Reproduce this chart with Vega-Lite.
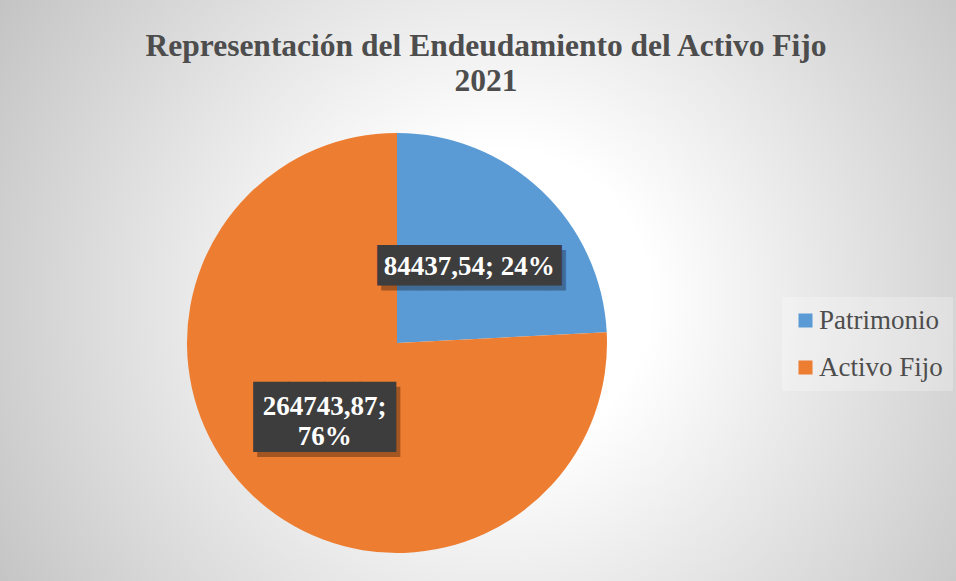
{
  "$schema": "https://vega.github.io/schema/vega-lite/v6.json",
  "autosize": "none",
  "padding": {"left": -162, "top": 0, "right": 0, "bottom": -105},
  "width": 1118,
  "height": 686,
  "background": "#c4c4c4",
  "config": {"view": {"stroke": null}},
  "title": {
    "text": ["Representación del Endeudamiento del Activo Fijo", "2021"],
    "font": "Liberation Serif",
    "fontSize": 31.5,
    "fontWeight": "bold",
    "color": "#4d4d4d",
    "lineHeight": 35,
    "anchor": "middle",
    "frame": "group",
    "orient": "top",
    "offset": 0,
    "dx": 89,
    "dy": 97
  },
  "data": {
    "values": [
      {"cat": "Patrimonio", "value": 84437.54, "label": "84437,54; 24%"},
      {"cat": "Activo Fijo", "value": 264743.87, "label": ["264743,87;", "76%"]}
    ]
  },
  "layer": [
    {
      "mark": {
        "type": "rect",
        "stroke": null,
        "fill": {
          "gradient": "radial",
          "x1": 0.592, "y1": 0.4615, "r1": 0.134,
          "x2": 0.592, "y2": 0.4615, "r2": 0.519,
          "stops": [
            {"offset": 0, "color": "#ffffff"},
            {"offset": 1, "color": "#c4c4c4"}
          ]
        }
      }
    },
    {
      "mark": {"type": "arc", "outerRadius": 210},
      "encoding": {
        "theta": {"field": "value", "type": "quantitative", "stack": true},
        "order": {"field": "value", "type": "quantitative", "sort": "ascending"},
        "color": {
          "field": "cat",
          "type": "nominal",
          "scale": {"domain": ["Patrimonio", "Activo Fijo"], "range": ["#5b9bd5", "#ed7d31"]},
          "legend": {
            "title": null,
            "orient": "none",
            "legendX": 944,
            "legendY": 297,
            "symbolType": "square",
            "symbolSize": 196,
            "symbolStrokeWidth": 0,
            "labelFont": "Liberation Serif",
            "labelFontSize": 27,
            "labelColor": "#4d4d4d",
            "labelOffset": 0,
            "rowPadding": 19,
            "padding": 10,
            "fillColor": "rgba(255,255,255,0.25)"
          }
        }
      }
    },
    {
      "mark": {"type": "text", "radius": 105, "font": "DejaVu Sans Mono", "color": "#000000", "opacity": 0.3, "dx": 4, "dy": 5, "align": "center", "baseline": "middle"},
      "encoding": {
        "theta": {"field": "value", "type": "quantitative", "stack": true},
        "order": {"field": "value", "type": "quantitative", "sort": "ascending"},
        "text": {"condition": {"test": "datum.cat === 'Patrimonio'", "value": "█████████"}, "value": "████"},
        "size": {"condition": {"test": "datum.cat === 'Patrimonio'", "value": 34}, "value": 59}
      }
    },
    {
      "mark": {"type": "text", "radius": 105, "font": "DejaVu Sans Mono", "color": "#3d3d3d", "align": "center", "baseline": "middle"},
      "encoding": {
        "theta": {"field": "value", "type": "quantitative", "stack": true},
        "order": {"field": "value", "type": "quantitative", "sort": "ascending"},
        "text": {"condition": {"test": "datum.cat === 'Patrimonio'", "value": "█████████"}, "value": "████"},
        "size": {"condition": {"test": "datum.cat === 'Patrimonio'", "value": 34}, "value": 59}
      }
    },
    {
      "mark": {"type": "text", "radius": 105, "font": "Liberation Serif", "fontWeight": "bold", "fontSize": 27, "color": "#ffffff", "align": "center", "baseline": "middle"},
      "encoding": {
        "theta": {"field": "value", "type": "quantitative", "stack": true},
        "order": {"field": "value", "type": "quantitative", "sort": "ascending"},
        "text": {"condition": {"test": "datum.cat === 'Patrimonio'", "field": "label"}, "value": ""}
      }
    },
    {
      "mark": {"type": "text", "radius": 105, "font": "Liberation Serif", "fontWeight": "bold", "fontSize": 27, "color": "#ffffff", "align": "center", "baseline": "middle", "lineHeight": 30, "dy": -12},
      "encoding": {
        "theta": {"field": "value", "type": "quantitative", "stack": true},
        "order": {"field": "value", "type": "quantitative", "sort": "ascending"},
        "text": {"condition": {"test": "datum.cat === 'Activo Fijo'", "field": "label"}, "value": ""}
      }
    }
  ]
}
